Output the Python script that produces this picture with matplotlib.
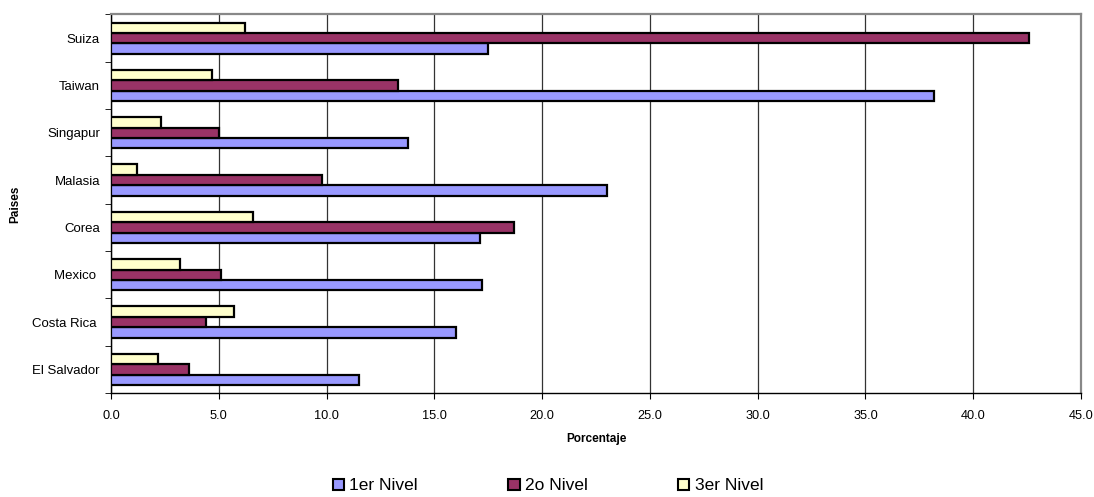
import matplotlib
matplotlib.use("Agg")
import matplotlib.pyplot as plt
from matplotlib.patches import Patch
import numpy as np

plt.rcParams['font.family'] = ['Liberation Sans', 'DejaVu Sans']

countries = ["El Salvador", "Costa Rica ", "Mexico ", "Corea", "Malasia", "Singapur", "Taiwan", "Suiza"]
nivel1 = [11.5, 16.0, 17.2, 17.1, 23.0, 13.8, 38.2, 17.5]
nivel2 = [3.6, 4.4, 5.1, 18.7, 9.8, 5.0, 13.3, 42.6]
nivel3 = [2.2, 5.7, 3.2, 6.6, 1.2, 2.3, 4.7, 6.2]
series_names = ["1er Nivel", "2o Nivel", "3er Nivel"]
colors = ["#9999FF", "#993366", "#FFFFCC"]
xticks = [0, 5, 10, 15, 20, 25, 30, 35, 40, 45]

fig = plt.figure(figsize=(10.94, 4.97), dpi=100)
ax = fig.add_axes([111/1094, 1-393/497, (1081-111)/1094, (393-14.5)/497])

y = np.arange(len(countries))
h = 0.22
for vals, off, c in zip([nivel1, nivel2, nivel3], [-h, 0, h], colors):
    ax.barh(y + off, vals, height=h, color=c, edgecolor="black", linewidth=1.6, zorder=3)

ax.set_xlim(0, 45)
ax.set_ylim(-0.5, len(countries) - 0.5)
ax.set_xticks(xticks)
ax.set_xticklabels([f"{v:.1f}" for v in xticks], fontsize=9.2)
ax.set_yticks(y)
ax.set_yticklabels(countries, fontsize=9.5)
ax.tick_params(axis='y', which='major', length=0, pad=8)
ax.set_yticks(np.arange(-0.5, len(countries), 1), minor=True)
ax.tick_params(axis='y', which='minor', length=4, direction='out', color='black')
ax.tick_params(axis='x', which='major', length=4, direction='out', pad=8)

ax.grid(axis='x', color='#333333', linewidth=0.9, zorder=0)
ax.set_axisbelow(True)

for s in ['top', 'right']:
    ax.spines[s].set_color('#888888')
    ax.spines[s].set_linewidth(1.6)
for s in ['left', 'bottom']:
    ax.spines[s].set_color('black')
    ax.spines[s].set_linewidth(1.0)

ax.set_xlabel("Porcentaje", fontsize=8.5, fontweight='bold', labelpad=8)
fig.text(15/1094, 1-204/497, "Paises", rotation=90, fontsize=8.5, fontweight='bold',
         ha='center', va='center')

handles = [Patch(facecolor=c, edgecolor='black', linewidth=1.5) for c in colors]
fig.legend(handles, series_names, loc='center', bbox_to_anchor=(548/1094, 1-486/497),
           ncol=3, frameon=False, fontsize=12.5, handlelength=0.65, handleheight=0.65,
           handletextpad=0.3, columnspacing=5.2, borderaxespad=0)

fig.savefig("out.png", dpi=100)
